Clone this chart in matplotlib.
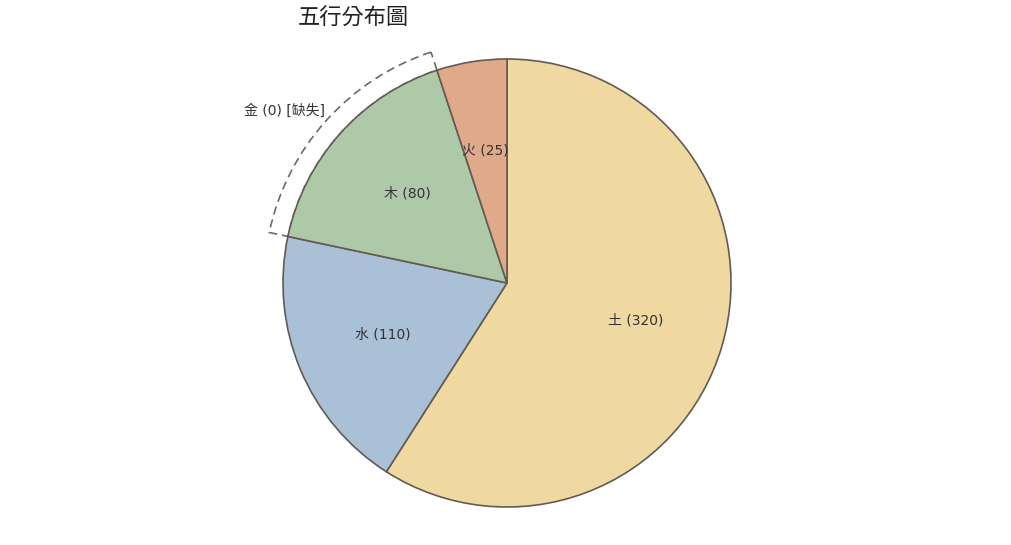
import numpy as np
import matplotlib
matplotlib.use("Agg")
import matplotlib.pyplot as plt
from matplotlib.patches import Wedge

plt.rcParams['font.family'] = ['DejaVu Sans', 'Noto Sans CJK TC']

# 五行數據
elements = ['土', '水', '木', '火']
counts = [320, 110, 80, 25]
# 圖中扇形實際所佔比例（%），按畫面量出
drawn_share = [59.05, 19.28, 16.61, 5.06]
colors = ['#f0d9a0', '#a9c0d6', '#aec9a7', '#dfa98a']

missing_name = '金'
missing_count = 0
missing_after = '木'  # 缺失框畫在這個扇形外面

fig = plt.figure(figsize=(10.11, 5.45), dpi=100)
ax = fig.add_axes([0, 0, 1, 1])

cx, cy, R = 507, 262, 224
wedges, _ = ax.pie(drawn_share, colors=colors, startangle=90, counterclock=False,
                   center=(cx, cy), radius=R,
                   wedgeprops=dict(edgecolor='#615b52', linewidth=1.2))

# 扇形內標籤
for w, name, c in zip(wedges, elements, counts):
    mid = np.deg2rad((w.theta1 + w.theta2) / 2)
    x = cx + 0.6 * R * np.cos(mid)
    y = cy + 0.6 * R * np.sin(mid)
    ax.text(x, y, f'{name} ({c})', ha='center', va='center', fontsize=10, color='#333333')

# 缺失的「金」用虛線框表示
ref = wedges[elements.index(missing_after)]
outer = R * 1.085
box = Wedge((cx, cy), outer, ref.theta1, ref.theta2, width=outer - R,
            fill=False, edgecolor='#6a6a6a', linewidth=1.2, linestyle=(0, (5, 3)), zorder=0.5)
ax.add_patch(box)
mid = np.deg2rad((ref.theta1 + ref.theta2) / 2)
ax.text(cx + 1.115 * R * np.cos(mid) + 4, cy + 1.115 * R * np.sin(mid) + 6,
        f'{missing_name} ({missing_count}) [缺失]', ha='right', va='center',
        fontsize=10, color='#333333')

ax.set_xlim(0, 1011)
ax.set_ylim(0, 545)
ax.axis('off')

fig.text(298 / 1011, 1 - 18 / 545, '五行分布圖', ha='left', va='center',
         fontsize=16, color='#222222', family=['Noto Sans CJK TC', 'DejaVu Sans'])

fig.savefig('out.png', dpi=100)
